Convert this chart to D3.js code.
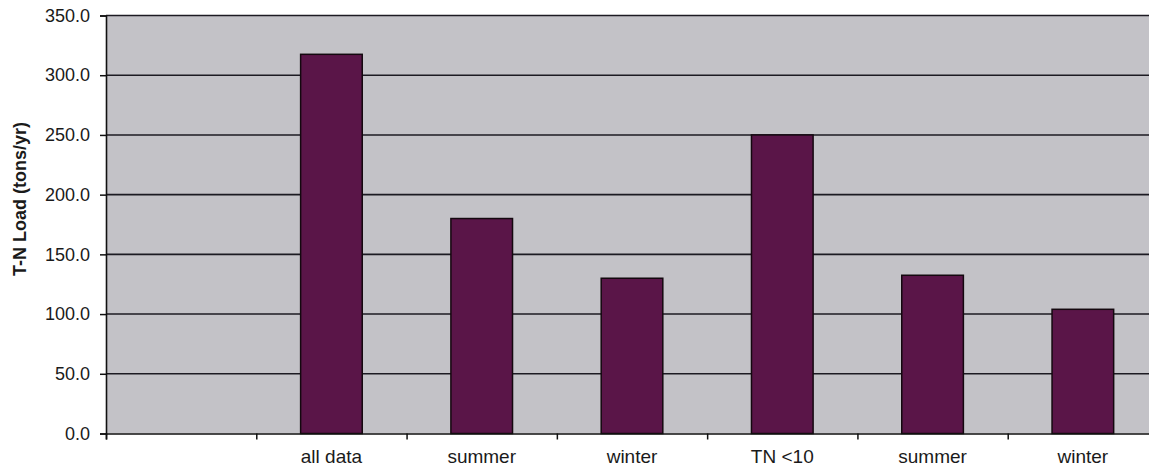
<!DOCTYPE html>
<html>
<head>
<meta charset="utf-8">
<script src="https://cdn.jsdelivr.net/npm/d3@7"></script>
<style>
  html, body { margin: 0; padding: 0; background: #ffffff; }
  svg { display: block; font-family: "Liberation Sans", Arial, sans-serif; }
</style>
</head>
<body>
<svg id="chart" width="1149" height="466"></svg>
<script>
// Category labels along the x axis (the first slot is left empty)
const categories = ["", "all data", "summer", "winter", "TN <10", "summer", "winter"];
// T-N load per category, tons/yr
const loads = [null, 317.5, 180.0, 130.0, 250.0, 132.5, 104.0];
// Y axis tick values
const yTicks = [0, 50, 100, 150, 200, 250, 300, 350];
const yTitle = "T-N Load (tons/yr)";

const svg = d3.select("#chart");
const plotLeft = 106, plotRight = 1158, plotTop = 15.5, plotBottom = 433.5;

const slots = d3.range(categories.length);
const x = d3.scaleBand()
  .domain(slots)
  .range([plotLeft, plotRight])
  .paddingInner(0.59)
  .paddingOuter(0.295);

// boundaries between categories carry the tick marks
const bounds = d3.scaleLinear().domain([0, categories.length]).range([plotLeft, plotRight]);

const y = d3.scaleLinear().domain([0, 350]).range([plotBottom, plotTop]);

// plot area
svg.append("rect")
  .attr("x", plotLeft).attr("y", plotTop)
  .attr("width", plotRight - plotLeft).attr("height", plotBottom - plotTop)
  .attr("fill", "#c3c2c7");

// horizontal gridlines
svg.append("g")
  .selectAll("line")
  .data(yTicks.filter(d => d > 0))
  .join("line")
  .attr("x1", plotLeft).attr("x2", plotRight)
  .attr("y1", d => y(d)).attr("y2", d => y(d))
  .attr("stroke", "#1c1a22").attr("stroke-width", 1.6);

// bars
svg.append("g")
  .selectAll("rect")
  .data(slots.filter(i => loads[i] != null))
  .join("rect")
  .attr("x", i => x(i))
  .attr("y", i => y(loads[i]))
  .attr("width", x.bandwidth())
  .attr("height", i => y(0) - y(loads[i]))
  .attr("fill", "#5a1548")
  .attr("stroke", "#14080f")
  .attr("stroke-width", 1.5);

// y axis
const yAxis = svg.append("g")
  .attr("transform", `translate(${plotLeft},0)`)
  .call(d3.axisLeft(y).tickValues(yTicks).tickFormat(d3.format(".1f")).tickSize(6).tickPadding(10));
yAxis.select(".domain").attr("stroke", "#111").attr("stroke-width", 1.6);
yAxis.selectAll(".tick line").attr("stroke", "#111").attr("stroke-width", 1.5);
yAxis.selectAll(".tick text")
  .attr("font-size", 18).attr("fill", "#1a1a1a")
  .attr("font-family", "Liberation Sans, Arial, sans-serif");

// x axis tick marks at category boundaries
const xTicks = svg.append("g")
  .attr("transform", `translate(0,${plotBottom})`)
  .call(d3.axisBottom(bounds).tickValues(d3.range(0, categories.length + 1)).tickFormat("").tickSize(6));
xTicks.select(".domain").attr("stroke", "#111").attr("stroke-width", 1.6);
xTicks.selectAll(".tick line").attr("stroke", "#111").attr("stroke-width", 1.5);

// x axis category labels
const xLabels = svg.append("g")
  .attr("transform", `translate(0,${plotBottom})`)
  .call(d3.axisBottom(x).tickSize(0).tickPadding(16).tickFormat(i => categories[i]));
xLabels.select(".domain").remove();
xLabels.selectAll(".tick text")
  .attr("font-size", 19).attr("fill", "#1a1a1a")
  .attr("font-family", "Liberation Sans, Arial, sans-serif");

// y axis title
svg.append("text")
  .attr("transform", "translate(26,199) rotate(-90)")
  .attr("text-anchor", "middle")
  .attr("font-size", 18)
  .attr("font-weight", "bold")
  .attr("fill", "#1a1a1a")
  .text(yTitle);
</script>
</body>
</html>
